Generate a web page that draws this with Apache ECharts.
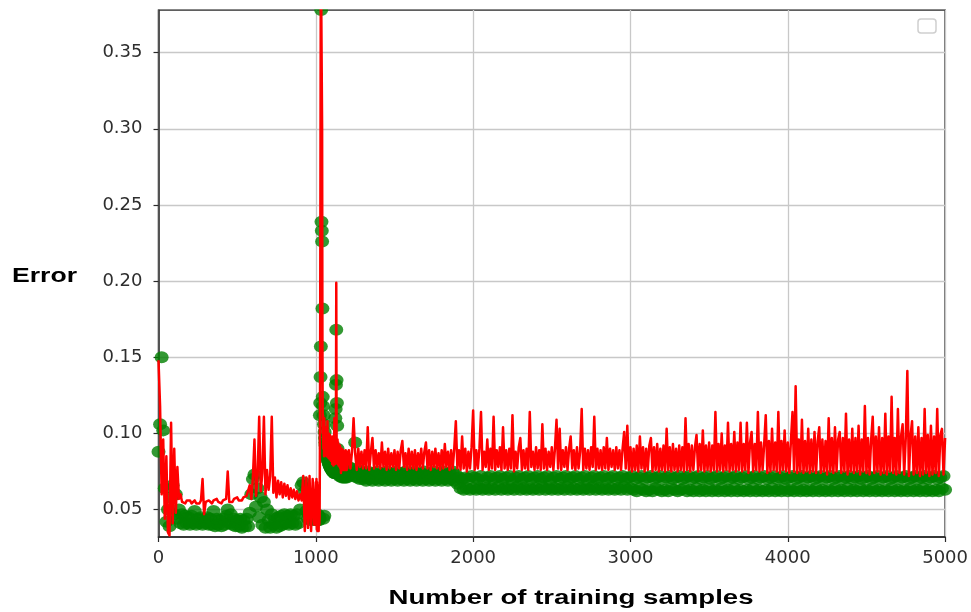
<!DOCTYPE html>
<html>
<head>
<meta charset="utf-8">
<title>Error vs number of training samples</title>
<script src="https://cdn.jsdelivr.net/npm/echarts@6/dist/echarts.min.js"></script>
<style>
  html, body { margin: 0; padding: 0; background: #ffffff; }
  #chart { width: 971px; height: 612px; }
</style>
</head>
<body>
<div id="chart"></div>
<script>
// Sample positions logged during the run: [first, last, step] for each stretch
const sampleRanges = [[0, 1000, 10], [1002, 1200, 2], [1210, 5000, 10]];

const xTicks = [0, 1000, 2000, 3000, 4000, 5000];
const yTicks = [0.05, 0.10, 0.15, 0.20, 0.25, 0.30, 0.35];

// Validation error (red line)
const valErrorEarly = [
  0.148, 0.118, 0.060, 0.096, 0.044, 0.085, 0.035, 0.033, 0.107, 0.041,
  0.090, 0.048, 0.078, 0.057, 0.060, 0.055, 0.056, 0.054, 0.056, 0.055,
  0.056, 0.054, 0.055, 0.056, 0.054, 0.055, 0.054, 0.056, 0.070, 0.047,
  0.055, 0.054, 0.056, 0.055, 0.054, 0.056, 0.055, 0.057, 0.055, 0.056,
  0.054, 0.056, 0.055, 0.057, 0.075, 0.055, 0.056, 0.055, 0.057, 0.056,
  0.058, 0.056, 0.057, 0.056, 0.058, 0.057, 0.059, 0.058, 0.066, 0.057,
  0.071, 0.096, 0.059, 0.072, 0.111, 0.062, 0.074, 0.111, 0.060, 0.076,
  0.063, 0.072, 0.111, 0.061, 0.071, 0.058, 0.069, 0.060, 0.068, 0.058,
  0.067, 0.059, 0.066, 0.057, 0.064, 0.058, 0.063, 0.057, 0.062, 0.056,
  0.060, 0.056, 0.072, 0.036, 0.071, 0.038, 0.072, 0.036, 0.070, 0.040,
  0.068
];
const valErrorSpike = [
  0.040, 0.070, 0.037, 0.068, 0.036, 0.066, 0.038, 0.060, 0.036, 0.052,
  0.040, 0.045, 0.090, 0.180, 0.300, 0.420, 0.420, 0.420, 0.420, 0.300,
  0.160, 0.100, 0.112, 0.090, 0.106, 0.085, 0.110, 0.092, 0.100, 0.086,
  0.104, 0.090, 0.098, 0.085, 0.100, 0.088, 0.108, 0.090, 0.095, 0.084,
  0.100, 0.087, 0.096, 0.083, 0.099, 0.086, 0.094, 0.082, 0.097, 0.085,
  0.094, 0.080, 0.098, 0.084, 0.092, 0.079, 0.095, 0.083, 0.110, 0.082,
  0.098, 0.080, 0.094, 0.110, 0.199, 0.098, 0.086, 0.084, 0.096, 0.080,
  0.094, 0.079, 0.092, 0.081, 0.090, 0.078, 0.092, 0.077, 0.089, 0.074,
  0.088, 0.076, 0.090, 0.078, 0.087, 0.076, 0.089, 0.077, 0.086, 0.076,
  0.088, 0.077, 0.087, 0.076, 0.089, 0.078, 0.086, 0.076, 0.088, 0.077
];
const valErrorLate = [
  0.089, 0.077, 0.088, 0.110, 0.087, 0.076, 0.090, 0.078, 0.088, 0.077,
  0.089, 0.077, 0.104, 0.076, 0.088, 0.097, 0.077, 0.089, 0.078, 0.087,
  0.077, 0.094, 0.078, 0.088, 0.076, 0.090, 0.077, 0.087, 0.078, 0.089,
  0.076, 0.088, 0.077, 0.089, 0.095, 0.078, 0.087, 0.076, 0.090, 0.077,
  0.088, 0.077, 0.089, 0.076, 0.087, 0.078, 0.090, 0.077, 0.088, 0.094,
  0.077, 0.089, 0.076, 0.088, 0.078, 0.090, 0.077, 0.087, 0.076, 0.089,
  0.077, 0.093, 0.078, 0.088, 0.076, 0.089, 0.077, 0.090, 0.108, 0.077,
  0.089, 0.076, 0.098, 0.077, 0.090, 0.075, 0.088, 0.077, 0.091, 0.115,
  0.076, 0.089, 0.077, 0.090, 0.114, 0.076, 0.088, 0.078, 0.096, 0.076,
  0.090, 0.077, 0.111, 0.076, 0.089, 0.078, 0.091, 0.076, 0.104, 0.077,
  0.089, 0.076, 0.090, 0.077, 0.112, 0.075, 0.088, 0.077, 0.091, 0.097,
  0.076, 0.089, 0.077, 0.090, 0.076, 0.114, 0.078, 0.088, 0.076, 0.091,
  0.077, 0.089, 0.076, 0.106, 0.077, 0.090, 0.076, 0.088, 0.078, 0.091,
  0.076, 0.090, 0.109, 0.077, 0.103, 0.076, 0.089, 0.078, 0.091, 0.076,
  0.090, 0.098, 0.077, 0.089, 0.076, 0.091, 0.077, 0.088, 0.116, 0.076,
  0.090, 0.077, 0.089, 0.076, 0.091, 0.078, 0.111, 0.076, 0.090, 0.077,
  0.089, 0.076, 0.091, 0.077, 0.097, 0.076, 0.090, 0.078, 0.089, 0.076,
  0.091, 0.077, 0.089, 0.076, 0.090, 0.101, 0.077, 0.105, 0.076, 0.091,
  0.075, 0.090, 0.076, 0.092, 0.075, 0.098, 0.077, 0.091, 0.075, 0.090,
  0.076, 0.092, 0.097, 0.075, 0.091, 0.076, 0.093, 0.075, 0.090, 0.076,
  0.092, 0.075, 0.103, 0.076, 0.091, 0.075, 0.093, 0.076, 0.090, 0.075,
  0.092, 0.076, 0.091, 0.075, 0.110, 0.076, 0.093, 0.075, 0.092, 0.076,
  0.091, 0.099, 0.075, 0.093, 0.076, 0.102, 0.075, 0.092, 0.076, 0.094,
  0.075, 0.092, 0.076, 0.114, 0.075, 0.093, 0.076, 0.100, 0.075, 0.092,
  0.076, 0.107, 0.075, 0.093, 0.076, 0.101, 0.075, 0.094, 0.076, 0.107,
  0.075, 0.093, 0.076, 0.107, 0.074, 0.094, 0.101, 0.075, 0.093, 0.076,
  0.114, 0.075, 0.094, 0.076, 0.093, 0.112, 0.074, 0.095, 0.075, 0.103,
  0.076, 0.094, 0.075, 0.114, 0.074, 0.095, 0.076, 0.102, 0.075, 0.094,
  0.074, 0.095, 0.114, 0.075, 0.131, 0.074, 0.096, 0.075, 0.109, 0.074,
  0.095, 0.075, 0.103, 0.074, 0.096, 0.075, 0.101, 0.074, 0.095, 0.104,
  0.074, 0.096, 0.075, 0.095, 0.073, 0.110, 0.075, 0.097, 0.074, 0.104,
  0.075, 0.096, 0.101, 0.074, 0.097, 0.075, 0.113, 0.073, 0.096, 0.075,
  0.103, 0.074, 0.097, 0.075, 0.105, 0.073, 0.096, 0.075, 0.118, 0.074,
  0.097, 0.073, 0.096, 0.111, 0.074, 0.098, 0.075, 0.104, 0.073, 0.097,
  0.074, 0.113, 0.073, 0.098, 0.075, 0.124, 0.074, 0.097, 0.073, 0.116,
  0.074, 0.098, 0.106, 0.073, 0.097, 0.141, 0.072, 0.098, 0.108, 0.073,
  0.098, 0.074, 0.104, 0.072, 0.097, 0.073, 0.116, 0.074, 0.099, 0.072,
  0.105, 0.073, 0.098, 0.074, 0.116, 0.072, 0.099, 0.103, 0.073, 0.097
];

// Training error (green markers)
const trainErrorEarly = [
  0.088, 0.106, 0.150, 0.102, 0.064, 0.042, 0.050, 0.039, 0.058, 0.066,
  0.047, 0.060, 0.044, 0.050, 0.041, 0.047, 0.040, 0.046, 0.041, 0.045,
  0.040, 0.046, 0.041, 0.049, 0.040, 0.044, 0.041, 0.045, 0.040, 0.044,
  0.041, 0.045, 0.040, 0.044, 0.040, 0.049, 0.039, 0.044, 0.040, 0.043,
  0.039, 0.044, 0.040, 0.046, 0.050, 0.041, 0.047, 0.040, 0.044, 0.039,
  0.043, 0.039, 0.044, 0.038, 0.043, 0.039, 0.044, 0.039, 0.048, 0.060,
  0.070, 0.073, 0.052, 0.064, 0.045, 0.058, 0.040, 0.055, 0.038, 0.050,
  0.043, 0.038, 0.047, 0.040, 0.044, 0.038, 0.045, 0.039, 0.046, 0.040,
  0.047, 0.041, 0.046, 0.040, 0.047, 0.041, 0.046, 0.040, 0.047, 0.041,
  0.050, 0.066, 0.068, 0.062, 0.049, 0.044, 0.046, 0.043, 0.046, 0.044,
  0.045
];
const trainErrorSpike = [
  0.045, 0.043, 0.046, 0.044, 0.047, 0.043, 0.045, 0.044, 0.046, 0.043,
  0.045, 0.044, 0.112, 0.120, 0.137, 0.157, 0.378, 0.239, 0.233, 0.226,
  0.182, 0.124, 0.118, 0.044, 0.112, 0.106, 0.046, 0.101, 0.097, 0.094,
  0.092, 0.090, 0.088, 0.087, 0.086, 0.085, 0.084, 0.083, 0.082, 0.082,
  0.081, 0.080, 0.080, 0.079, 0.079, 0.078, 0.078, 0.077, 0.077, 0.077,
  0.076, 0.076, 0.076, 0.075, 0.075, 0.075, 0.075, 0.074, 0.074, 0.074,
  0.074, 0.110, 0.116, 0.132, 0.168, 0.135, 0.120, 0.105, 0.090, 0.080,
  0.074, 0.078, 0.073, 0.077, 0.072, 0.078, 0.073, 0.076, 0.072, 0.077,
  0.072, 0.076, 0.071, 0.077, 0.072, 0.075, 0.071, 0.076, 0.072, 0.075,
  0.071, 0.076, 0.072, 0.075, 0.071, 0.076, 0.072, 0.074, 0.071, 0.075
];
const trainErrorLate = [
  0.078, 0.073, 0.077, 0.072, 0.094, 0.071, 0.076, 0.070, 0.075, 0.070,
  0.074, 0.069, 0.075, 0.070, 0.073, 0.069, 0.074, 0.070, 0.075, 0.069,
  0.073, 0.070, 0.074, 0.069, 0.075, 0.070, 0.073, 0.069, 0.074, 0.070,
  0.075, 0.069, 0.073, 0.070, 0.074, 0.069, 0.075, 0.070, 0.073, 0.069,
  0.074, 0.070, 0.075, 0.069, 0.073, 0.070, 0.074, 0.069, 0.075, 0.070,
  0.073, 0.069, 0.074, 0.070, 0.075, 0.069, 0.073, 0.070, 0.074, 0.069,
  0.075, 0.070, 0.073, 0.069, 0.074, 0.070, 0.075, 0.069, 0.073, 0.067,
  0.071, 0.064, 0.070, 0.063, 0.071, 0.064, 0.070, 0.063, 0.072, 0.064,
  0.071, 0.063, 0.070, 0.064, 0.072, 0.063, 0.069, 0.064, 0.071, 0.063,
  0.072, 0.064, 0.070, 0.063, 0.071, 0.065, 0.072, 0.063, 0.070, 0.064,
  0.071, 0.063, 0.072, 0.064, 0.069, 0.063, 0.071, 0.065, 0.072, 0.063,
  0.070, 0.064, 0.071, 0.063, 0.072, 0.064, 0.070, 0.063, 0.071, 0.064,
  0.072, 0.063, 0.070, 0.065, 0.071, 0.063, 0.072, 0.064, 0.069, 0.063,
  0.071, 0.064, 0.072, 0.063, 0.070, 0.064, 0.071, 0.063, 0.072, 0.065,
  0.070, 0.063, 0.071, 0.064, 0.072, 0.063, 0.070, 0.064, 0.071, 0.063,
  0.072, 0.064, 0.069, 0.063, 0.071, 0.065, 0.072, 0.063, 0.070, 0.064,
  0.071, 0.063, 0.072, 0.064, 0.070, 0.063, 0.071, 0.064, 0.072, 0.063,
  0.070, 0.064, 0.071, 0.063, 0.072, 0.065, 0.070, 0.063, 0.071, 0.064,
  0.072, 0.063, 0.070, 0.062, 0.071, 0.064, 0.072, 0.063, 0.070, 0.062,
  0.071, 0.063, 0.072, 0.062, 0.070, 0.064, 0.071, 0.063, 0.072, 0.062,
  0.070, 0.063, 0.071, 0.062, 0.072, 0.064, 0.070, 0.063, 0.071, 0.062,
  0.072, 0.063, 0.070, 0.064, 0.071, 0.062, 0.072, 0.063, 0.070, 0.062,
  0.071, 0.064, 0.072, 0.062, 0.070, 0.063, 0.071, 0.062, 0.072, 0.064,
  0.070, 0.062, 0.071, 0.063, 0.072, 0.062, 0.070, 0.064, 0.071, 0.062,
  0.072, 0.063, 0.070, 0.062, 0.071, 0.064, 0.072, 0.062, 0.070, 0.063,
  0.071, 0.062, 0.072, 0.063, 0.070, 0.062, 0.071, 0.064, 0.072, 0.062,
  0.070, 0.063, 0.071, 0.062, 0.072, 0.063, 0.070, 0.062, 0.071, 0.064,
  0.072, 0.062, 0.070, 0.063, 0.071, 0.062, 0.072, 0.064, 0.070, 0.062,
  0.071, 0.063, 0.072, 0.062, 0.070, 0.064, 0.071, 0.062, 0.072, 0.063,
  0.070, 0.062, 0.071, 0.063, 0.072, 0.062, 0.070, 0.064, 0.071, 0.062,
  0.072, 0.063, 0.070, 0.062, 0.071, 0.063, 0.072, 0.062, 0.070, 0.064,
  0.071, 0.062, 0.072, 0.063, 0.070, 0.062, 0.071, 0.064, 0.072, 0.062,
  0.070, 0.063, 0.071, 0.062, 0.072, 0.064, 0.070, 0.062, 0.071, 0.063,
  0.072, 0.062, 0.070, 0.064, 0.071, 0.062, 0.072, 0.063, 0.070, 0.062,
  0.071, 0.063, 0.072, 0.062, 0.070, 0.064, 0.071, 0.062, 0.072, 0.063,
  0.070, 0.062, 0.071, 0.063, 0.072, 0.062, 0.070, 0.064, 0.071, 0.062,
  0.072, 0.063, 0.070, 0.062, 0.071, 0.064, 0.072, 0.062, 0.070, 0.063,
  0.071, 0.062, 0.072, 0.063, 0.070, 0.062, 0.071, 0.064, 0.072, 0.063
];

// Expand the logged ranges into the list of sample counts
const samplePositions = [];
sampleRanges.forEach(([first, last, step]) => {
  for (let n = first; n <= last; n += step) samplePositions.push(n);
});

const valError = valErrorEarly.concat(valErrorSpike, valErrorLate);
const trainError = trainErrorEarly.concat(trainErrorSpike, trainErrorLate);
const valPoints = samplePositions.map((n, i) => [n, valError[i]]);
const trainPoints = samplePositions.map((n, i) => [n, trainError[i]]);

const frameColor = '#2b2b2b';
const gridColor = '#c8c8c8';
const tickFont = { color: '#2e2e2e', fontSize: 18, fontFamily: 'DejaVu Sans' };

const chart = echarts.init(document.getElementById('chart'));
chart.setOption({
  animation: false,
  backgroundColor: '#ffffff',
  grid: {
    left: 158.5, right: 24, top: 10, bottom: 75,
    show: true, borderColor: frameColor, borderWidth: 1.5, backgroundColor: 'transparent'
  },
  xAxis: {
    type: 'value', min: xTicks[0], max: xTicks[xTicks.length - 1], interval: 1000,
    axisLine: { show: true, lineStyle: { color: frameColor, width: 1.5 } },
    axisTick: { show: true, length: 5, lineStyle: { color: frameColor, width: 1.2 } },
    axisLabel: Object.assign({ margin: 12, formatter: v => String(v) }, tickFont),
    splitLine: { show: true, lineStyle: { color: gridColor, width: 1.3 } }
  },
  yAxis: {
    type: 'value', min: 0.032, max: 0.378,
    axisLine: { show: true, lineStyle: { color: frameColor, width: 1.5 } },
    axisTick: { show: true, length: 5, customValues: yTicks, lineStyle: { color: frameColor, width: 1.2 } },
    axisLabel: Object.assign({ margin: 16, customValues: yTicks, formatter: v => v.toFixed(2) }, tickFont),
    splitLine: { show: true, lineStyle: { color: gridColor, width: 1.3 } }
  },
  series: [
    {
      name: 'Training error', type: 'scatter', data: trainPoints,
      symbol: 'circle', symbolSize: [14, 12],
      itemStyle: { color: '#008000' }
    },
    {
      name: 'Validation error', type: 'line', data: valPoints,
      showSymbol: false, clip: true,
      lineStyle: { color: '#ff0000', width: 2.5, join: 'round' }
    }
  ],
  graphic: {
    elements: [
      // keeps markers sitting on the top edge from spilling above the frame
      { type: 'rect', z: 100, silent: true,
        shape: { x: 150, y: 0, width: 810, height: 9.2 }, style: { fill: '#ffffff' } },
      // empty legend frame
      { type: 'rect', z: 101, silent: true,
        shape: { x: 918, y: 19, width: 18, height: 14, r: 3 },
        style: { fill: '#ffffff', stroke: '#cfcfcf', lineWidth: 1.5 } },
      { type: 'text', z: 101, x: 12, y: 276, scaleX: 1.33,
        style: { text: 'Error', font: 'bold 20px "Liberation Sans", Arial, sans-serif',
                 fill: '#000000', align: 'left', verticalAlign: 'middle' } },
      { type: 'text', z: 101, x: 571, y: 598, scaleX: 1.38,
        style: { text: 'Number of training samples', font: 'bold 20px "Liberation Sans", Arial, sans-serif',
                 fill: '#000000', align: 'center', verticalAlign: 'middle' } }
    ]
  }
});
</script>
</body>
</html>
